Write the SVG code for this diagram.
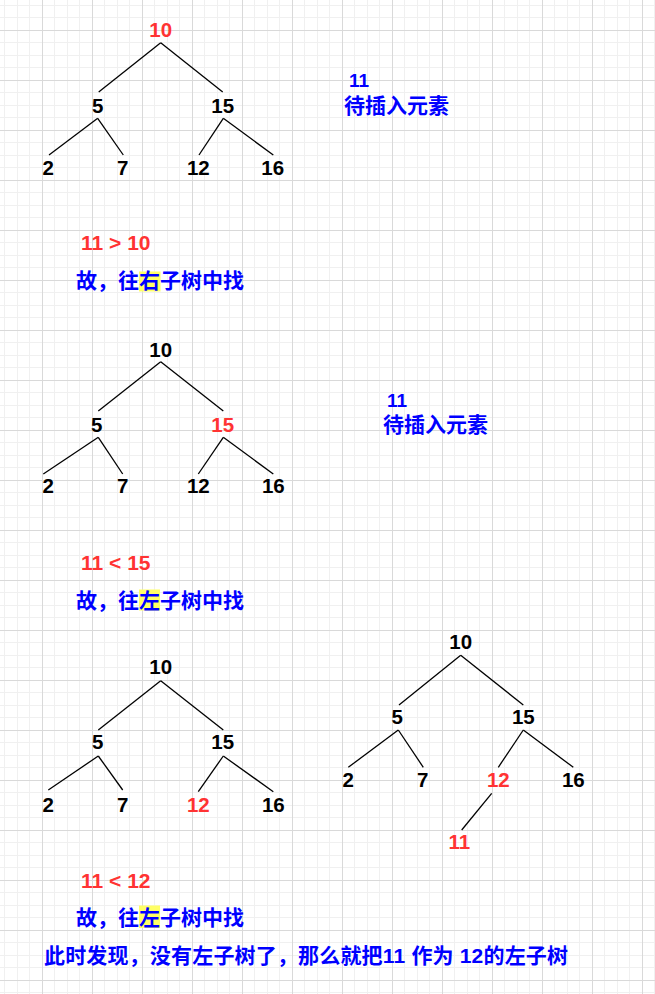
<svg xmlns="http://www.w3.org/2000/svg" width="655" height="994" viewBox="0 0 655 994">
<style>
.n{font-family:"Liberation Sans",Arial,sans-serif;font-weight:bold;font-size:20.5px;text-anchor:middle;fill:#000}
.r{fill:#ff3333}
.e{stroke:#000;stroke-width:1.3;fill:none}
.lab{font-family:"Liberation Sans",Arial,sans-serif;font-weight:bold;font-size:21px;fill:#ff3333}
.cn{font-family:"Liberation Sans","Noto Sans CJK SC",sans-serif;font-weight:bold;font-size:21px;fill:#0000ff}
.num{font-family:"Liberation Sans",Arial,sans-serif;font-weight:bold;font-size:19px;fill:#0000ff}
.hl{fill:#ffff66}
</style>
<defs>
<pattern id="grid" patternUnits="userSpaceOnUse" x="-8" y="-20" width="50" height="50">
<rect x="0" y="0" width="50" height="50" fill="#ffffff"/>
<rect x="12" y="0" width="1" height="50" fill="#f0f0f0"/>
<rect x="25" y="0" width="1" height="50" fill="#f0f0f0"/>
<rect x="37" y="0" width="1" height="50" fill="#f0f0f0"/>
<rect x="0" y="12" width="50" height="1" fill="#f0f0f0"/>
<rect x="0" y="25" width="50" height="1" fill="#f0f0f0"/>
<rect x="0" y="37" width="50" height="1" fill="#f0f0f0"/>
<rect x="0" y="0" width="1" height="50" fill="#d9d9d9"/>
<rect x="0" y="0" width="50" height="1" fill="#d9d9d9"/>
</pattern>
</defs>
<rect x="0" y="0" width="655" height="994" fill="url(#grid)"/>

<g id="connectors">
<!-- tree 1 -->
<line class="e" x1="160.7" y1="42.7" x2="98.7" y2="92"/>
<line class="e" x1="160.7" y1="42.7" x2="222.7" y2="92"/>
<line class="e" x1="97.7" y1="118.3" x2="49" y2="155"/>
<line class="e" x1="97.7" y1="118.3" x2="123.3" y2="155"/>
<line class="e" x1="223.3" y1="118.3" x2="199" y2="155"/>
<line class="e" x1="223.3" y1="118.3" x2="273.3" y2="155"/>
<!-- tree 2 -->
<line class="e" x1="160.7" y1="361.7" x2="98.3" y2="411"/>
<line class="e" x1="160.7" y1="361.7" x2="223.3" y2="411"/>
<line class="e" x1="98.3" y1="437.3" x2="43.3" y2="474"/>
<line class="e" x1="98.3" y1="437.3" x2="122.7" y2="474"/>
<line class="e" x1="223.3" y1="437.3" x2="198.3" y2="474"/>
<line class="e" x1="223.3" y1="437.3" x2="273.3" y2="474"/>
<!-- tree 3 -->
<line class="e" x1="160.7" y1="680.7" x2="98.3" y2="730"/>
<line class="e" x1="160.7" y1="680.7" x2="223.3" y2="730"/>
<line class="e" x1="98.3" y1="756" x2="48.3" y2="790"/>
<line class="e" x1="98.3" y1="756" x2="122.7" y2="790"/>
<line class="e" x1="223.3" y1="756" x2="198.3" y2="791.7"/>
<line class="e" x1="223.3" y1="756" x2="273.3" y2="791.7"/>
<!-- tree 4 -->
<line class="e" x1="460.7" y1="655.3" x2="399" y2="705"/>
<line class="e" x1="460.7" y1="655.3" x2="523.3" y2="705"/>
<line class="e" x1="398.3" y1="730" x2="348.3" y2="767.3"/>
<line class="e" x1="398.3" y1="730" x2="423.3" y2="767.3"/>
<line class="e" x1="523.3" y1="730" x2="498.3" y2="767.3"/>
<line class="e" x1="523.3" y1="730" x2="573.3" y2="767.3"/>
<line class="e" x1="491.7" y1="793.3" x2="461.7" y2="830"/>
</g>

<!-- tree 1 nodes -->
<g id="t1-10"><text class="n r" x="160.7" y="37">10</text></g>
<g id="t1-5"><text class="n" x="97.7" y="113">5</text></g>
<g id="t1-15"><text class="n" x="222.7" y="113">15</text></g>
<g id="t1-2"><text class="n" x="48.3" y="174.5">2</text></g>
<g id="t1-7"><text class="n" x="122.7" y="174.5">7</text></g>
<g id="t1-12"><text class="n" x="198.3" y="174.5">12</text></g>
<g id="t1-16"><text class="n" x="272.7" y="174.5">16</text></g>

<!-- tree 2 nodes -->
<g id="t2-10"><text class="n" x="160.7" y="356.7">10</text></g>
<g id="t2-5"><text class="n" x="96.7" y="431.7">5</text></g>
<g id="t2-15"><text class="n r" x="222.7" y="431.7">15</text></g>
<g id="t2-2"><text class="n" x="48.3" y="493.3">2</text></g>
<g id="t2-7"><text class="n" x="122.7" y="493.3">7</text></g>
<g id="t2-12"><text class="n" x="198.3" y="493.3">12</text></g>
<g id="t2-16"><text class="n" x="273.3" y="493.3">16</text></g>

<!-- tree 3 nodes -->
<g id="t3-10"><text class="n" x="160.7" y="674">10</text></g>
<g id="t3-5"><text class="n" x="97.7" y="749.3">5</text></g>
<g id="t3-15"><text class="n" x="222.7" y="749.3">15</text></g>
<g id="t3-2"><text class="n" x="48.3" y="812">2</text></g>
<g id="t3-7"><text class="n" x="122.7" y="812">7</text></g>
<g id="t3-12"><text class="n r" x="198.3" y="812">12</text></g>
<g id="t3-16"><text class="n" x="273.3" y="812">16</text></g>

<!-- tree 4 nodes -->
<g id="t4-10"><text class="n" x="460.7" y="649.3">10</text></g>
<g id="t4-5"><text class="n" x="397.3" y="724">5</text></g>
<g id="t4-15"><text class="n" x="523.3" y="724">15</text></g>
<g id="t4-2"><text class="n" x="348.3" y="787.3">2</text></g>
<g id="t4-7"><text class="n" x="422.7" y="787.3">7</text></g>
<g id="t4-12"><text class="n r" x="498.3" y="787.3">12</text></g>
<g id="t4-16"><text class="n" x="573.3" y="787.3">16</text></g>
<g id="t4-11"><text class="n r" x="459.3" y="849.3">11</text></g>

<!-- side notes -->
<g id="note1">
<text class="num" x="349" y="87">11</text>
<text class="cn" x="344" y="113">待插入元素</text>
</g>
<g id="note2">
<text class="num" x="387" y="407">11</text>
<text class="cn" x="383" y="432">待插入元素</text>
</g>

<!-- step 1 -->
<g id="step1">
<text class="lab" x="81" y="250">11 &gt; 10</text>
<rect class="hl" x="139" y="271.5" width="21.5" height="20"/>
<text class="cn" x="76" y="288">故，往右子树中找</text>
</g>
<!-- step 2 -->
<g id="step2">
<text class="lab" x="81" y="570">11 &lt; 15</text>
<rect class="hl" x="139" y="589.5" width="21" height="21"/>
<text class="cn" x="76" y="607.5">故，往左子树中找</text>
</g>
<!-- step 3 -->
<g id="step3">
<text class="lab" x="81" y="888">11 &lt; 12</text>
<rect class="hl" x="139" y="905.5" width="21" height="22.5"/>
<text class="cn" x="76" y="924.5">故，往左子树中找</text>
<text class="cn" x="44" y="963" textLength="524" lengthAdjust="spacing">此时发现，没有左子树了，那么就把11 作为 12的左子树</text>
</g>
</svg>
